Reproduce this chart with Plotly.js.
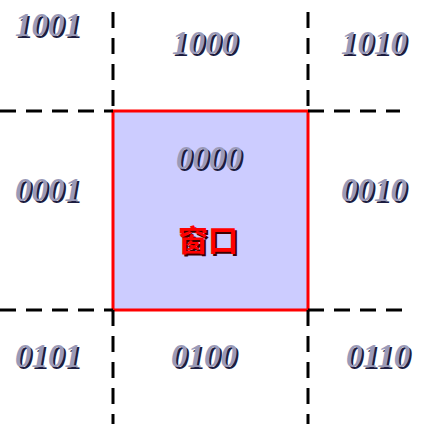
<!DOCTYPE html>
<html><head><meta charset="utf-8">
<script src="https://cdn.plot.ly/plotly-3.0.1.min.js"></script>
<style>body{margin:0}#plot{width:423px;height:424px}</style>
</head><body><div id="plot"></div>
<script>
const codes = ['1001', '1000', '1010', '0001', '0000', '0010', '0101', '0100', '0110'];
const codeX = [48, 205, 374, 48, 209, 374, 48, 204, 378];
const codeY = [25, 43, 43, 190, 158, 190, 356, 356, 356];
const windowLabel = '窗口';
const windowX = [113, 308];
const windowY = [111, 310];

let shapes = [];
// window box
shapes.push({type: 'rect', x0: windowX[0], x1: windowX[1], y0: windowY[0], y1: windowY[1],
  fillcolor: '#ccccff', line: {color: 'red', width: 3}, layer: 'below'});
// dashed extension lines
const dash = {color: 'black', width: 3, dash: '16px,10px'};
windowX.forEach(x => {
  shapes.push({type: 'line', x0: x, x1: x, y0: 12, y1: windowY[0], line: dash});
  shapes.push({type: 'line', x0: x, x1: x, y0: windowY[1], y1: 424, line: dash});
});
windowY.forEach((y, i) => {
  shapes.push({type: 'line', x0: 0, x1: windowX[0], y0: y, y1: y, line: dash});
  shapes.push({type: 'line', x0: windowX[1], x1: i ? 410 : 400, y0: y, y1: y, line: dash});
});

let annotations = [];
const font = (c) => ({family: 'Liberation Serif', size: 33, style: 'italic', weight: 'bold', color: c});
codes.forEach((c, i) => {
  annotations.push({x: codeX[i] + 2, y: codeY[i] + 2, text: c, showarrow: false, font: font('#1c1c40')});
  annotations.push({x: codeX[i], y: codeY[i], text: c, showarrow: false, font: font('#9a9ab8')});
});
const wf = (c) => ({family: 'Noto Sans CJK SC', size: 30, weight: 'bold', color: c});
annotations.push({x: 210, y: 240, text: windowLabel, showarrow: false, font: wf('#400000')});
annotations.push({x: 208, y: 238, text: windowLabel, showarrow: false, font: wf('#ff0000')});

Plotly.newPlot('plot', [], {
  width: 423, height: 424, margin: {l: 0, r: 0, t: 0, b: 0},
  paper_bgcolor: 'white', plot_bgcolor: 'white', showlegend: false,
  xaxis: {range: [0, 423], visible: false, fixedrange: true},
  yaxis: {range: [424, 0], visible: false, fixedrange: true},
  shapes: shapes, annotations: annotations
}, {staticPlot: true});
</script></body></html>
